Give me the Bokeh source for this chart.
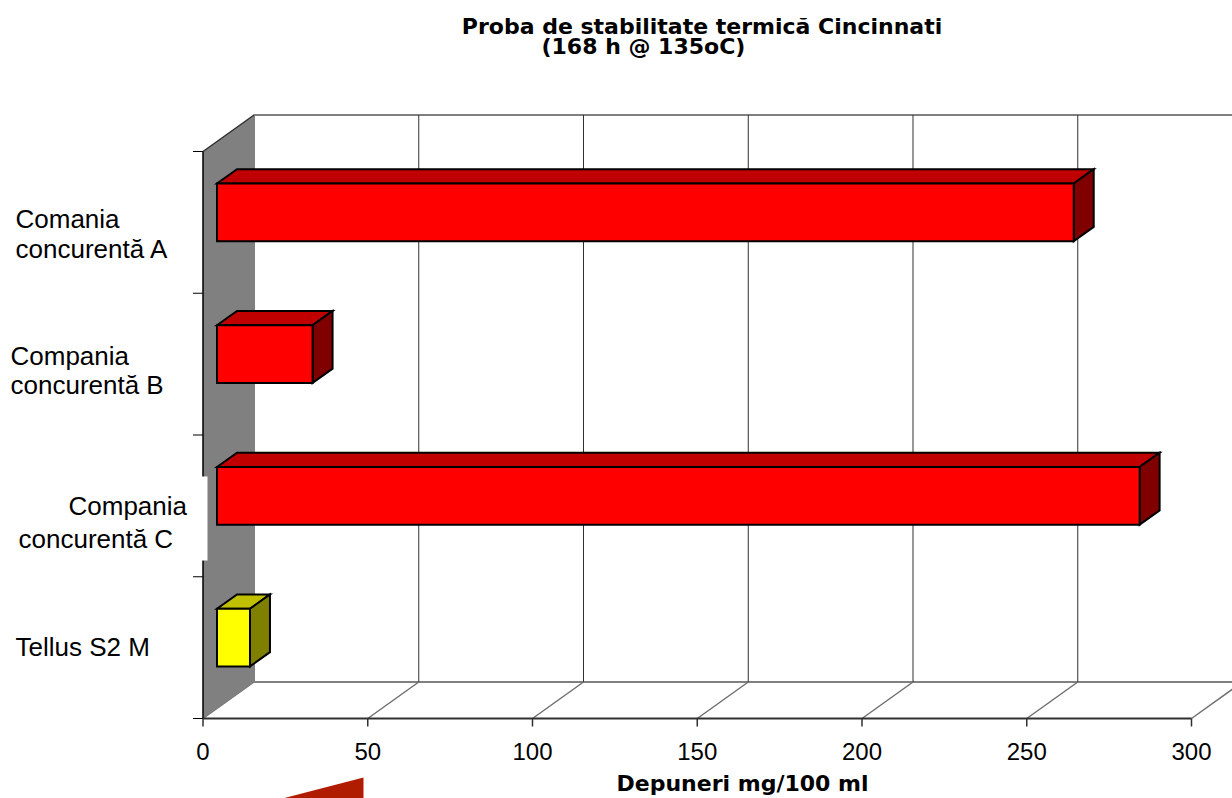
from bokeh.plotting import figure
from bokeh.models import Range1d, ColumnDataSource
from bokeh.core.properties import value
from bokeh.embed import file_html
from bokeh.resources import INLINE

# ---------------- data ----------------
categories = ["Comania concurentă A", "Compania concurentă B",
              "Compania concurentă C", "Tellus S2 M"]
deposits = [260, 29, 280, 10]          # mg / 100 ml
x_ticks = [0, 50, 100, 150, 200, 250, 300]
x_tick_labels = ["0", "50", "100", "150", "200", "250", "300"]
title_lines = ["Proba de stabilitate termică Cincinnati", "(168 h @ 135oC)"]
x_axis_title = "Depuneri mg/100 ml"

# ---------------- styles ----------------
front_colors = ["#FF0000", "#FF0000", "#FF0000", "#FFFF00"]
top_colors = ["#C00000", "#C00000", "#C00000", "#C0C000"]
side_colors = ["#800000", "#800000", "#800000", "#808000"]

W, H = 1232, 798
X_MAX = x_ticks[-1]
N = len(categories)

# page-pixel geometry of the front plane
AX_LEFT_PX, AX_RIGHT_PX = 202.5, 1191.0
FLOOR_PX, TOP_PX = 718.0, 151.0
px_x = (AX_RIGHT_PX - AX_LEFT_PX) / X_MAX
px_y = (FLOOR_PX - TOP_PX) / N

def sx(px):
    return (px - AX_LEFT_PX) / px_x

def sy(py):
    return (FLOOR_PX - py) / px_y

# depth vector of the 3D box (in data units)
DX = 51.0 / px_x
DY = 36.5 / px_y

p = figure(width=W, height=H,
           x_range=Range1d(sx(0), sx(W)),
           y_range=Range1d(sy(H), sy(0)),
           output_backend="svg", toolbar_location=None,
           x_axis_location=None, y_axis_location=None,
           min_border=0, outline_line_color=None,
           background_fill_color="white", border_fill_color="white")
p.grid.visible = False

# back wall
p.quad(left=[DX], right=[X_MAX + DX], bottom=[DY], top=[N + DY],
       fill_color="white", line_color="#808080", line_width=2)
# back wall gridlines
inner = [t for t in x_ticks if 0 < t < X_MAX]
p.segment(x0=[t + DX for t in inner], y0=[DY] * len(inner),
          x1=[t + DX for t in inner], y1=[N + DY] * len(inner),
          line_color="#303030", line_width=1)
# floor diagonals
p.segment(x0=x_ticks, y0=[0] * len(x_ticks),
          x1=[t + DX for t in x_ticks], y1=[DY] * len(x_ticks),
          line_color="#707070", line_width=1.5)

# left wall
p.patch([0, DX, DX, 0], [0, DY, N + DY, N], fill_color="#808080", line_color=None)
p.segment(x0=[0], y0=[N], x1=[DX], y1=[N + DY], line_color="#303030", line_width=1.5)

# front-left axis + ticks
p.segment(x0=[0], y0=[0], x1=[0], y1=[N], line_color="black", line_width=1.5)
tick_len_x = 10.0 / px_x
p.segment(x0=[-tick_len_x] * (N + 1), y0=list(range(N + 1)),
          x1=[0] * (N + 1), y1=list(range(N + 1)),
          line_color="black", line_width=1.2)

# white background of a category label box
p.quad(left=[sx(180)], right=[sx(207)], bottom=[sy(560)], top=[sy(476)],
       fill_color="white", line_color=None)

# front x axis
p.segment(x0=[0], y0=[0], x1=[X_MAX], y1=[0], line_color="#303030", line_width=2)
tick_len_y = 8.0 / px_y
p.segment(x0=x_ticks, y0=[0] * len(x_ticks), x1=x_ticks, y1=[-tick_len_y] * len(x_ticks),
          line_color="#303030", line_width=1.5)

# 3D bars
d0, d1 = 0.275, 0.667
half = 0.2035
fx, fy, tx, ty, rx, ry = [], [], [], [], [], []
for i, v in enumerate(deposits):
    c = N - i - 0.5
    ax0, ay0 = d0 * DX, d0 * DY
    ax1, ay1 = d1 * DX, d1 * DY
    fx.append([ax0, v + ax0, v + ax0, ax0])
    fy.append([c - half + ay0, c - half + ay0, c + half + ay0, c + half + ay0])
    tx.append([ax0, v + ax0, v + ax1, ax1])
    ty.append([c + half + ay0, c + half + ay0, c + half + ay1, c + half + ay1])
    rx.append([v + ax0, v + ax1, v + ax1, v + ax0])
    ry.append([c - half + ay0, c - half + ay1, c + half + ay1, c + half + ay0])

for xs, ys, cols in ((tx, ty, top_colors), (rx, ry, side_colors), (fx, fy, front_colors)):
    src = ColumnDataSource(dict(xs=xs, ys=ys, color=cols))
    p.patches("xs", "ys", source=src, fill_color="color", line_color="black",
              line_width=2, line_join="miter")

# (text y positions below are the visual centres of the text lines)
# tick labels
p.text(x=x_ticks, y=[sy(751)] * len(x_ticks), text=x_tick_labels,
       text_align="center", text_baseline="alphabetic",
       text_font=value("Liberation Sans"), text_font_size="24px", text_color="black")
# axis title
p.text(x=[sx(742)], y=[sy(783)], text=[x_axis_title],
       text_align="center", text_baseline="alphabetic",
       text_font=value("DejaVu Sans"), text_font_style="bold",
       text_font_size="22px", text_color="black")
# chart title
p.text(x=[sx(701.5)], y=[sy(26)], text=[title_lines[0]],
       text_align="center", text_baseline="alphabetic",
       text_font=value("DejaVu Sans"), text_font_style="bold",
       text_font_size="22px", text_color="black")
p.text(x=[sx(541)], y=[sy(46)], text=[title_lines[1]],
       text_align="left", text_baseline="alphabetic",
       text_font=value("DejaVu Sans"), text_font_style="bold",
       text_font_size="22px", text_color="black")

# category labels (positions in page px: left x, vertical offset from category centre)
label_layout = [
    [(15, -3), (15, 27)],
    [(10, -8.5), (10, 21)],
    [(68, 0.5), (18, 33.5)],
    [(15, -1)],
]
lx, ly, lt = [], [], []
for i, name in enumerate(categories):
    c = N - i - 0.5
    parts = name.split(" ", 1) if len(label_layout[i]) == 2 else [name]
    for part, (xpx, off) in zip(parts, label_layout[i]):
        lx.append(sx(xpx))
        ly.append(c - off / px_y)
        lt.append(part)
p.text(x=lx, y=ly, text=lt, text_align="left", text_baseline="alphabetic",
       text_font=value("Liberation Sans"), text_font_size="26px", text_color="black")

# decorative wedge at the bottom
p.patch([sx(282), sx(363), sx(363)], [sy(798), sy(777), sy(798)],
        fill_color="#B01C00", line_color=None)

open("out.html", "w").write(file_html(p, INLINE))
